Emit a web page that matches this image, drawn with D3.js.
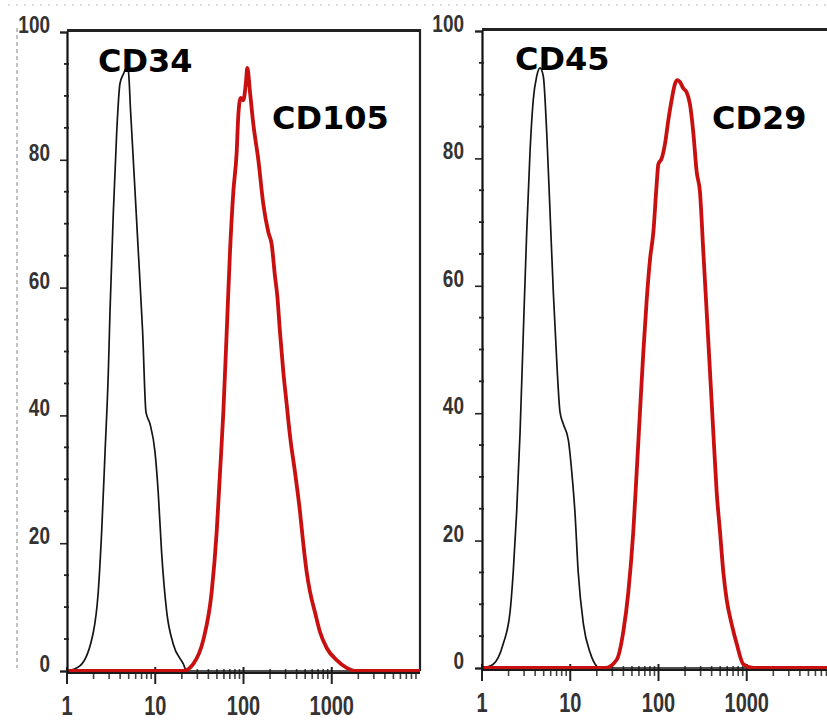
<!DOCTYPE html>
<html>
<head>
<meta charset="utf-8">
<script src="https://cdn.jsdelivr.net/npm/d3@7"></script>
<style>
  body { margin: 0; background: #fff; }
  svg { display: block; }
</style>
</head>
<body>
<svg id="chart" width="827" height="727"></svg>
<script>

// marker names, black (control) and red (positive) for each panel
const markerNames = ["CD34", "CD105", "CD45", "CD29"];

const cd34Intensity = [1, 1.40, 1.99, 2.26, 2.47, 2.70, 2.94, 3.07, 3.35, 3.66, 3.98, 4.35, 4.75, 4.95, 5.26, 5.74, 6.43, 7.2, 7.85, 8.71, 9.93, 10.8, 11.8, 13.5, 16.0, 20.8, 22.7, 10000];
const cd34Count     = [0, 0.8, 6.1, 12.4, 21.8, 34.3, 46.8, 56.2, 71.8, 84.4, 91.9, 93.4, 94.4, 94.0, 87.5, 78.1, 65.6, 53.0, 40.5, 38.7, 34.3, 28.0, 18.6, 9.2, 4.2, 1.1, 0, 0];

const cd105Intensity = [1, 20.8, 27.0, 35.1, 43.6, 49.7, 54.2, 59.1, 64.5, 70.3, 76.7, 83.7, 87.3, 92.9, 99.5, 106.7, 110.5, 118.5, 129.2, 147.2, 167.6, 191, 208.4, 227.3, 241.5, 259.2, 282.6, 308.3, 336.5, 383.4, 436.7, 476.2, 519.7, 567.2, 645.6, 735.9, 876.5, 1137, 1476, 1918, 10000];
const cd105Count     = [0, 0, 1.1, 4.9, 12.4, 21.8, 31.1, 40.5, 53.0, 65.6, 75.0, 81.2, 86.9, 89.7, 89.3, 92.2, 94.4, 90.6, 85.6, 80.0, 73.1, 68.7, 66.8, 61.8, 58.7, 53.0, 46.8, 41.8, 36.8, 31.1, 24.9, 19.9, 15.5, 12.4, 9.2, 6.1, 3.6, 1.7, 0.5, 0, 0];

const cd45Intensity = [1, 1.34, 1.74, 2.08, 2.26, 2.47, 2.70, 2.94, 3.21, 3.50, 3.81, 4.17, 4.54, 4.95, 5.41, 5.90, 6.43, 7.13, 7.65, 8.34, 9.51, 10.4, 11.3, 12.3, 14.1, 16.7, 21.7, 10000];
const cd45Count     = [0, 0.6, 3.8, 8.8, 15.1, 24.5, 37.0, 52.7, 68.4, 81.0, 89.2, 92.9, 94.2, 92.9, 84.1, 71.6, 59.0, 46.5, 40.2, 38.3, 35.8, 30.8, 24.5, 15.1, 6.9, 2.5, 0, 0];

const cd29Intensity = [1, 24.8, 33.6, 39.9, 45.5, 51.8, 56.6, 61.7, 67.3, 73.5, 80.1, 87.4, 95.4, 99.6, 108.7, 118.5, 129.2, 141, 153.8, 163.4, 175.2, 191, 208.4, 227.3, 247.8, 270.7, 295.1, 322.1, 351.6, 383.4, 418, 456.3, 497.7, 542.5, 592.4, 674.5, 769.2, 914.5, 1186, 10000];
const cd29Count     = [0, 0, 1.3, 5.7, 11.9, 21.4, 30.8, 40.2, 49.6, 57.8, 64.1, 68.4, 76.0, 79.1, 80.0, 82.3, 86.0, 89.2, 91.7, 92.3, 92.0, 91.0, 90.4, 88.5, 84.1, 77.9, 74.7, 65.3, 55.9, 46.5, 37.0, 27.6, 21.4, 15.1, 10.7, 6.9, 3.8, 0.6, 0, 0];

const xTickValues = [1, 10, 100, 1000];
const xTickLabels = ["1", "10", "100", "1000"];
const yTickValues = [0, 20, 40, 60, 80, 100];
const yTickLabels = ["0", "20", "40", "60", "80", "100"];



const svg = d3.select("#chart");

const painelEsquerdo = {
    left: 67, right: 420, top: 32, bottom: 671,
    preto: d3.zip(cd34Intensity, cd34Count),
    vermelho: d3.zip(cd105Intensity, cd105Count),
    nomePreto: markerNames[0], nomeVermelho: markerNames[1],
    posPreto: [98, 72], posVermelho: [272, 129],
    labelRight: 50
};

const painelDireito = {
    left: 482, right: 835, top: 31, bottom: 668,
    preto: d3.zip(cd45Intensity, cd45Count),
    vermelho: d3.zip(cd29Intensity, cd29Count),
    nomePreto: markerNames[2], nomeVermelho: markerNames[3],
    posPreto: [515, 70], posVermelho: [712, 129],
    labelRight: 464
};


// screenshot leftovers: dotted top rule and dashed left rule
svg.append("line")
    .attr("x1", 8).attr("x2", 827).attr("y1", 5).attr("y2", 5)
    .attr("stroke", "#d0d0d0").attr("stroke-width", 1.5).attr("stroke-dasharray", "2,6");

svg.append("line")
    .attr("x1", 17).attr("x2", 17).attr("y1", 28).attr("y2", 668)
    .attr("stroke", "#9a9a9a").attr("stroke-width", 1.2).attr("stroke-dasharray", "4,3");


function desenharPainel(p) {

    const x = d3.scaleLog().domain([1, 10000]).range([p.left, p.right]);
    const y = d3.scaleLinear().domain([0, 100]).range([p.bottom, p.top]);

    const g = svg.append("g");

    const linha = d3.line()
        .x(d => x(d[0]))
        .y(d => y(d[1]))
        .curve(d3.curveMonotoneX);

    //frame: top and right
    g.append("line")
        .attr("x1", p.left).attr("x2", p.right)
        .attr("y1", p.top - 1.5).attr("y2", p.top - 1.5)
        .attr("stroke", "#222").attr("stroke-width", 3);

    g.append("line")
        .attr("x1", p.right).attr("x2", p.right)
        .attr("y1", p.top - 3).attr("y2", p.bottom)
        .attr("stroke", "#222").attr("stroke-width", 2.2);

    //x axis with log minor ticks (drawn before the curves)
    const menoresX = [];
    [1, 10, 100, 1000].forEach(dec => {
        for (let k = 2; k <= 9; k++) menoresX.push(dec * k);
    });

    g.append("g").selectAll("line")
        .data(menoresX)
        .join("line")
            .attr("x1", d => x(d)).attr("x2", d => x(d))
            .attr("y1", p.bottom - 2).attr("y2", p.bottom + 8)
            .attr("stroke", "#444").attr("stroke-width", 1.6);

    g.append("g").selectAll("line")
        .data(xTickValues)
        .join("line")
            .attr("x1", d => x(d)).attr("x2", d => x(d))
            .attr("y1", p.bottom - 4).attr("y2", p.bottom + 13)
            .attr("stroke", "#222").attr("stroke-width", 2);

    //curves
    g.append("path")
        .datum(p.preto)
        .attr("fill", "none")
        .attr("stroke", "#151515")
        .attr("stroke-width", 1.7)
        .attr("d", linha);

    g.append("path")
        .datum(p.vermelho)
        .attr("fill", "none")
        .attr("stroke", "#c81010")
        .attr("stroke-width", 3.8)
        .attr("stroke-linejoin", "round")
        .attr("d", linha);

    //baseline
    g.append("line")
        .attr("x1", p.left).attr("x2", p.right)
        .attr("y1", p.bottom + 2).attr("y2", p.bottom + 2)
        .attr("stroke", "#1a1a1a").attr("stroke-width", 2);

    //y axis
    const eixoY = d3.axisLeft(y)
        .tickValues(yTickValues)
        .tickSize(7)
        .tickFormat("");

    g.append("g")
        .attr("transform", `translate(${p.left},0)`)
        .call(eixoY)
        .call(s => s.select(".domain").attr("stroke", "#111").attr("stroke-width", 2.2))
        .call(s => s.selectAll(".tick line").attr("stroke", "#222").attr("stroke-width", 1.6));

    const menoresY = d3.range(5, 100, 5).filter(v => v % 20 !== 0);
    g.append("g").selectAll("line")
        .data(menoresY)
        .join("line")
            .attr("x1", p.left - 3).attr("x2", p.left + 2)
            .attr("y1", d => y(d)).attr("y2", d => y(d))
            .attr("stroke", "#222").attr("stroke-width", 1.8);

    g.append("g").selectAll("text")
        .data(yTickValues)
        .join("text")
            .attr("transform", d => `translate(${p.labelRight},${y(d) + 1}) scale(1,1.3)`)
            .attr("text-anchor", "end")
            .attr("font-family", "Liberation Sans Narrow, Liberation Sans, sans-serif")
            .attr("font-weight", "bold")
            .attr("font-size", 19)
            .attr("fill", "#333")
            .text((d, i) => yTickLabels[i]);

    g.append("g").selectAll("text")
        .data(xTickValues)
        .join("text")
            .attr("transform", d => `translate(${x(d)},${p.bottom + 44}) scale(1,1.35)`)
            .attr("text-anchor", "middle")
            .attr("font-family", "Liberation Sans Narrow, Liberation Sans, sans-serif")
            .attr("font-weight", "bold")
            .attr("font-size", 20)
            .attr("fill", "#333")
            .text((d, i) => xTickLabels[i]);

    //marker names
    g.append("text")
        .attr("x", p.posPreto[0]).attr("y", p.posPreto[1])
        .attr("font-family", "DejaVu Sans, Verdana, sans-serif")
        .attr("font-weight", "bold")
        .attr("font-size", 32)
        .attr("fill", "#000")
        .text(p.nomePreto);

    g.append("text")
        .attr("x", p.posVermelho[0]).attr("y", p.posVermelho[1])
        .attr("font-family", "DejaVu Sans, Verdana, sans-serif")
        .attr("font-weight", "bold")
        .attr("font-size", 32)
        .attr("fill", "#000")
        .text(p.nomeVermelho);
}


desenharPainel(painelEsquerdo);
desenharPainel(painelDireito);

</script>
</body>
</html>
